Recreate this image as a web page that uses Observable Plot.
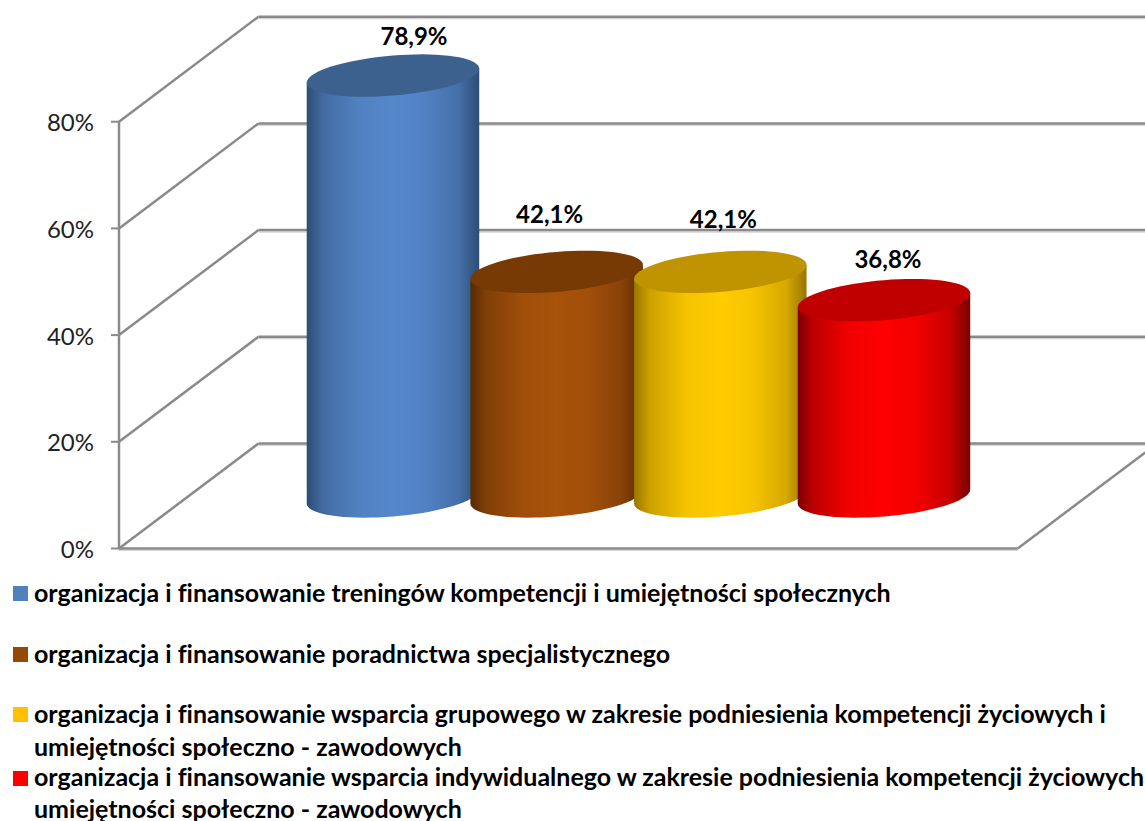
<!DOCTYPE html>
<html><head><meta charset="utf-8">
<script src="https://cdn.jsdelivr.net/npm/d3@7"></script>
<script src="https://cdn.jsdelivr.net/npm/@observablehq/plot@0.6"></script>
<style>
html,body{margin:0;padding:0;background:#fff;overflow:hidden;width:1145px;height:821px}
svg{display:block}
#legend{position:absolute;left:0;top:576px;width:1145px;overflow:hidden;font:bold 25px Lato,sans-serif;font-variant-ligatures:none;line-height:33px;color:#000}
.item{position:relative;padding-left:34px;white-space:pre}
.item:last-child{line-height:31.5px}
.sw{position:absolute;left:13px;top:10px;width:15px;height:15px}
</style></head><body>
<div id="chart"></div><div id="legend"></div>
<script>
const categories = [
 "organizacja i finansowanie treningów kompetencji i umiejętności społecznych",
 "organizacja i finansowanie poradnictwa specjalistycznego",
 "organizacja i finansowanie wsparcia grupowego w zakresie podniesienia kompetencji życiowych i\numiejętności społeczno - zawodowych",
 "organizacja i finansowanie wsparcia indywidualnego w zakresie podniesienia kompetencji życiowych\numiejętności społeczno - zawodowych"
];
const values = [78.9, 42.1, 42.1, 36.8];
const yTicks = [0, 20, 40, 60, 80];
const swatchColors = ["#4f81bd", "#974706", "#ffc000", "#ff0000"];
const topColors = ["#3d618f", "#773a04", "#c09400", "#c00000"];
const edgeColors = ["#2c4d75", "#572a03", "#997500", "#7a0000"];
const midColors = ["#5587cb", "#a8520b", "#ffcc00", "#ff0000"];
const itemHeights = [61, 60, 64, 63];
const labelNudge = [[21,-38],[-7,-57],[3,-52],[4,-40]];

// Oblique-projection geometry, in scale units
const xAxis = -1.674, xEnd = 4.598, floorEnd = 3.817;
const depthX = 0.852, depthY = 19.68, tickLength = 0.049;
const radius = 0.527, minor = 3.75, shear = 1.31, base = 9.75;

const angle = d3.range(0, 73).map(k => k * Math.PI / 36);
const ell = (i, c) => t => ({x: i + radius * Math.cos(t), y: c + minor * -Math.sin(t) + shear * Math.cos(t)});
// y is up in data space, so -sin(t) is the near (lower) half for t in (0,pi)
const topShape = (i, v) => angle.map(ell(i, base + v));
const bodyShape = (i, v) => {
  const low = angle.filter(t => t <= Math.PI + 1e-6).map(ell(i, base));
  const tl = ell(i, base + v)(Math.PI), tr = ell(i, base + v)(0);
  return [tr, ...low, tl, tr];
};

const defs = () => {
  const d = d3.create("svg:defs");
  values.forEach((_, i) => {
    const mix = d3.interpolateRgb(edgeColors[i], midColors[i]);
    const g = d.append("linearGradient").attr("id", "g" + i).attr("x1", 0).attr("x2", 1).attr("y1", 0).attr("y2", 0);
    [[0, edgeColors[i]],[.09, mix(.5)],[.3, mix(.9)],[.5, midColors[i]],[.68, mix(.92)],[.88, mix(.6)],[1, edgeColors[i]]]
      .forEach(([o, c]) => g.append("stop").attr("offset", o).attr("stop-color", c));
  });
  return d.node();
};

const gridColor = "#8a8a8a", shadowColor = "#d4d4d4";
const link = (rows, opts={}) => Plot.link(rows, {x1:"x1", y1:"y1", x2:"x2", y2:"y2", stroke:gridColor, strokeWidth:2.5, ...opts});
const backLines = yTicks.map(v => ({x1:xAxis+depthX, y1:v+depthY, x2:xEnd, y2:v+depthY}));
const sideLines = yTicks.map(v => ({x1:xAxis, y1:v, x2:xAxis+depthX, y2:v+depthY}));
const tickLines = yTicks.map(v => ({x1:xAxis-tickLength, y1:v, x2:xAxis, y2:v}));
const floorLines = [
  {x1:xAxis, y1:0, x2:floorEnd, y2:0},
  {x1:floorEnd, y1:0, x2:floorEnd+depthX*0.915, y2:depthY*0.915}
];
const axisLine = [{x1:xAxis, y1:0, x2:xAxis, y2:80}];

const cylinders = values.flatMap((v, i) => [
  Plot.line(bodyShape(i, v), {x:"x", y:"y", fill:`url(#g${i})`, stroke:"none"}),
  Plot.line(topShape(i, v), {x:"x", y:"y", fill:topColors[i], stroke:"none"})
]);
const labels = values.map((v, i) => Plot.text([v], {
  x: () => i, y: d => d + base,
  text: d => d3.format(".1f")(d).replace(".", ",") + "%",
  dx: labelNudge[i][0], dy: labelNudge[i][1],
  fontSize: 24, fontWeight: 700, fontFamily: "Lato", fill: "#000"
}));

const plot = Plot.plot({
  width: 1145, height: 576,
  marginLeft: 118.5, marginRight: 0, marginTop: 0, marginBottom: 28,
  x: {type: "linear", domain: [xAxis, xEnd], axis: null},
  y: {type: "linear", domain: [0, 102.72], axis: null},
  style: {background: "#fff", overflow: "hidden"},
  marks: [
    defs,
    link(backLines, {stroke:shadowColor, strokeWidth:1.5, dy:1.8}),
    link(floorLines.slice(0,1), {stroke:shadowColor, strokeWidth:1.5, dy:1.8}),
    link(backLines),
    link(sideLines),
    link(floorLines),
    link(axisLine),
    link(tickLines, {strokeWidth:2}),
    Plot.axisY(yTicks, {
      anchor:"left", tickSize:0, tickPadding:25, dy:2,
      tickFormat:d => d + "%", fontSize:24, fontFamily:"Lato", fill:"#222", label:null
    }),
    ...cylinders,
    ...labels
  ]
});
document.getElementById("chart").append(plot);

const legend = d3.select("#legend");
categories.forEach((c, i) => {
  const it = legend.append("div").attr("class", "item").style("height", itemHeights[i] + "px").text(c);
  it.append("span").attr("class", "sw").style("background", swatchColors[i]);
});
</script>
</body></html>
